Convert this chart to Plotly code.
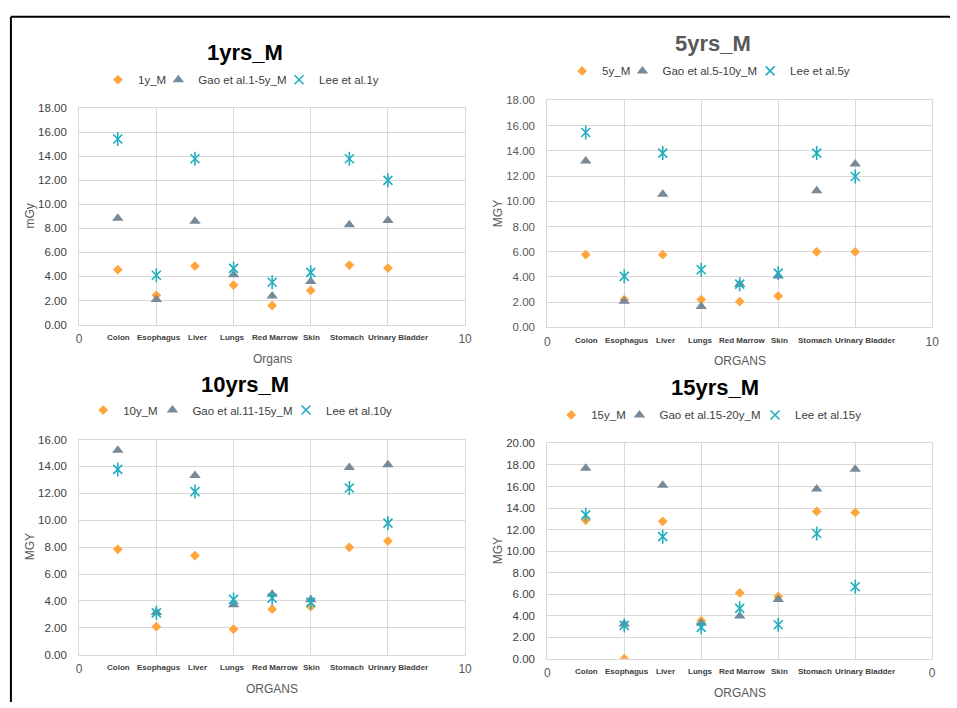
import plotly.graph_objects as go

W, H = 957, 708

organs = ["Colon", "Esophagus", "Liver", "Lungs", "Red Marrow", "Skin", "Stomach", "Urinary Bladder"]
organ_pos = [1, 2, 3, 4, 5, 6, 7, 8]

titles = ["1yrs_M", "5yrs_M", "10yrs_M", "15yrs_M"]
names_this = ["1y_M", "5y_M", "10y_M", "15y_M"]
names_gao = ["Gao et al.1-5y_M", "Gao et al.5-10y_M", "Gao et al.11-15y_M", "Gao et al.15-20y_M"]
names_lee = ["Lee et al.1y", "Lee et al.5y", "Lee et al.10y", "Lee et al.15y"]
y_titles = ["mGy", "MGY", "MGY", "MGY"]
x_titles = ["Organs", "ORGANS", "ORGANS", "ORGANS"]
y_max = [18, 18, 16, 20]
x_ticktext = [["0", "", "", "", "", "10"], ["0", "", "", "", "", "10"],
              ["0", "", "", "", "", "10"], ["0", "", "", "", "", "0"]]

p1_this = [4.56, 2.43, 4.86, 3.28, 1.58, 2.84, 4.95, 4.70]
p1_gao = [8.85, 2.08, 8.60, 4.15, 2.38, 3.58, 8.30, 8.66]
p1_lee = [15.44, 4.10, 13.80, 4.67, 3.52, 4.34, 13.80, 12.00]

p2_this = [5.77, 2.21, 5.77, 2.21, 2.05, 2.49, 6.00, 6.00]
p2_gao = [13.19, 2.08, 10.55, 1.66, 3.43, 4.08, 10.83, 12.96]
p2_lee = [15.45, 4.05, 13.82, 4.57, 3.43, 4.31, 13.82, 11.97]

p3_this = [7.84, 2.09, 7.38, 1.90, 3.39, 3.58, 7.99, 8.45]
p3_gao = [15.20, 3.14, 13.32, 3.73, 4.50, 4.09, 13.93, 14.13]
p3_lee = [13.78, 3.12, 12.13, 4.12, 4.21, 3.90, 12.40, 9.79]

p4_this = [12.86, 0.00, 12.77, 3.53, 6.11, 5.78, 13.68, 13.59]
p4_gao = [17.69, 3.22, 16.11, 3.30, 3.98, 5.50, 15.78, 17.60]
p4_lee = [13.37, 3.10, 11.34, 2.92, 4.68, 3.16, 11.64, 6.69]

series_this = [p1_this, p2_this, p3_this, p4_this]
series_gao = [p1_gao, p2_gao, p3_gao, p4_gao]
series_lee = [p1_lee, p2_lee, p3_lee, p4_lee]

# layout geometry in pixels: (left, right, top, bottom)
boxes = [(77, 467, 104, 324), (550, 939, 96, 327), (77, 467, 441, 660), (550, 939, 445, 664)]
title_pos = [(245, 47), (718, 38), (245, 385), (720, 388)]
# legend marker x positions for the 3 entries, and legend row y
legend_marks = [([135, 186, 298], 80), ([604, 655, 774], 71), ([120, 180, 305], 416), ([593, 652, 779], 421)]
legend_offsets = [-18, -8, 2]
title_colors = ["#000000", "#595959", "#000000", "#000000"]
label_shift = [1, 3, 3, -1, 3, 1, -2, 10]

C_ORANGE = "#FFA53C"
C_GRAY = "#778A99"
C_TEAL = "#21AFBF"
GRID = "#D9D9D9"
FONT = "Liberation Sans, Arial, sans-serif"

fig = go.Figure()
annotations = []
layout = dict(width=W, height=H, margin=dict(l=0, r=0, t=0, b=0),
              paper_bgcolor="white", plot_bgcolor="white",
              font=dict(family=FONT, color="#595959", size=11))

leg_count = 0
for i in range(4):
    n = i + 1
    xa = "x" if n == 1 else f"x{n}"
    ya = "y" if n == 1 else f"y{n}"
    l, r, t, b = boxes[i]
    layout[f"xaxis{'' if n == 1 else n}"] = dict(
        domain=[l / W, r / W], range=[0, 10], anchor=ya,
        tickvals=[0, 2, 4, 6, 8, 10], ticktext=x_ticktext[i],
        showgrid=True, gridcolor=GRID, gridwidth=1,
        showline=True, linecolor=GRID, mirror=True, zeroline=False,
        ticks="", tickfont=dict(size=12, color="#595959"), ticklabelstandoff=3)
    layout[f"yaxis{'' if n == 1 else n}"] = dict(
        domain=[1 - b / H, 1 - t / H], range=[0, y_max[i]], anchor=xa,
        dtick=2, tickformat=".2f", showgrid=True, gridcolor=GRID, gridwidth=1,
        showline=True, linecolor=GRID, mirror=True, zeroline=False,
        ticks="", tickfont=dict(size=11.5, color="#404040" if i != 1 else "#595959"),
        ticklabelstandoff=9)

    mk_x, mk_y = legend_marks[i]
    legs = []
    for j in range(3):
        leg_count += 1
        lg = "legend" if leg_count == 1 else f"legend{leg_count}"
        legs.append(lg)
        layout[lg] = dict(x=(mk_x[j] + legend_offsets[j] - 21) / W, y=1 - (mk_y - 5) / H,
                          xanchor="left", yanchor="middle",
                          orientation="h", font=dict(size=11.5, color="#404040"),
                          bgcolor="rgba(0,0,0,0)", itemwidth=30, borderwidth=0)

    fig.add_trace(go.Scatter(x=organ_pos, y=series_this[i], mode="markers", name=names_this[i],
                             xaxis=xa, yaxis=ya, legend=legs[0],
                             marker=dict(symbol="diamond", size=7.5, color=C_ORANGE)))
    fig.add_trace(go.Scatter(x=organ_pos, y=series_gao[i], mode="markers", name=names_gao[i],
                             xaxis=xa, yaxis=ya, legend=legs[1],
                             marker=dict(symbol="triangle-up", size=10, color=C_GRAY)))
    fig.add_trace(go.Scatter(x=organ_pos, y=series_lee[i], mode="markers", name=names_lee[i],
                             xaxis=xa, yaxis=ya, legend=legs[2],
                             marker=dict(symbol="x-thin-open", size=9, color=C_TEAL,
                                         line=dict(color=C_TEAL, width=1.6))))
    fig.add_trace(go.Scatter(x=organ_pos, y=series_lee[i], mode="markers", showlegend=False,
                             xaxis=xa, yaxis=ya, hoverinfo="skip",
                             marker=dict(symbol="line-ns-open", size=10, color=C_TEAL,
                                         line=dict(color=C_TEAL, width=1.6))))

    tx, ty = title_pos[i]
    annotations.append(dict(text=f"<b>{titles[i]}</b>", x=tx / W, y=1 - ty / H, xref="paper", yref="paper",
                            showarrow=False, xanchor="center", yanchor="middle",
                            font=dict(size=22, color=title_colors[i], family=FONT)))
    for k, (org, pos) in enumerate(zip(organs, organ_pos)):
        annotations.append(dict(text=f"<b>{org}</b>", x=pos, y=0, xref=xa, yref=f"{ya} domain",
                                showarrow=False, xanchor="center", yanchor="middle",
                                yshift=-13, xshift=label_shift[k],
                                font=dict(size=8, color="#404040", family=FONT)))
    annotations.append(dict(text=x_titles[i], x=0.5, y=0, xref=f"{xa} domain", yref=f"{ya} domain",
                            showarrow=False, xanchor="center", yanchor="middle", yshift=-34,
                            font=dict(size=12, color="#595959")))
    annotations.append(dict(text=y_titles[i], x=0, y=0.5, xref=f"{xa} domain", yref=f"{ya} domain",
                            showarrow=False, xanchor="center", yanchor="middle", xshift=-49,
                            textangle=-90, font=dict(size=12, color="#595959")))

layout["annotations"] = annotations
layout["shapes"] = [
    dict(type="line", xref="paper", yref="paper", x0=8 / W, x1=1, y0=1 - 11 / H, y1=1 - 11 / H,
         line=dict(color="black", width=2)),
    dict(type="line", xref="paper", yref="paper", x0=8 / W, x1=8 / W, y0=1 - 11 / H, y1=0,
         line=dict(color="black", width=2)),
]
fig.update_layout(**layout)
fig.write_html("out.html", config={"displayModeBar": False},
               post_script="document.body.style.margin='0';document.body.style.overflow='hidden';")
